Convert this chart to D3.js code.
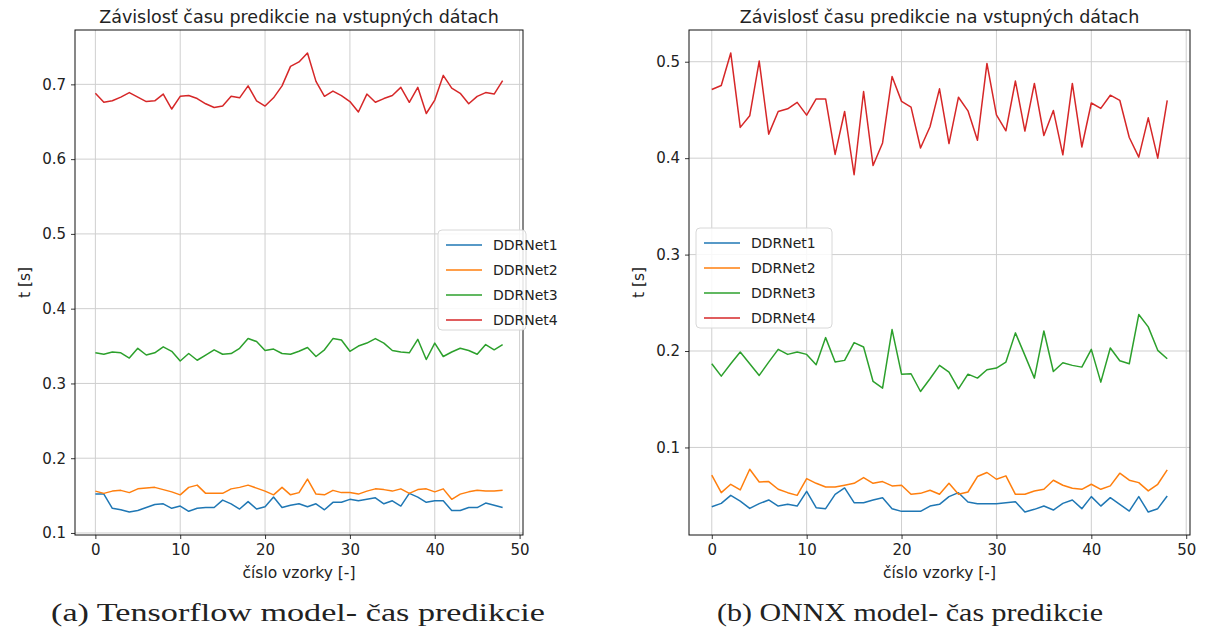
<!DOCTYPE html>
<html>
<head>
<meta charset="utf-8">
<script src="https://cdn.jsdelivr.net/npm/d3@7"></script>
<style>
  html, body { margin: 0; padding: 0; background: #fff; }
  svg { display: block; }
</style>
</head>
<body>
<svg id="fig" width="1215" height="634"></svg>
<script>
// Prediction time per sample, Tensorflow models (seconds)
const tfNet1 = [0.152,0.152,0.133,0.131,0.128,0.130,0.134,0.138,0.139,0.133,0.136,0.129,0.133,0.134,0.134,0.144,0.139,0.132,0.142,0.132,0.135,0.148,0.134,0.137,0.139,0.135,0.139,0.131,0.141,0.141,0.145,0.143,0.145,0.147,0.139,0.143,0.136,0.153,0.148,0.141,0.143,0.143,0.130,0.130,0.134,0.134,0.140,0.137,0.134];
const tfNet2 = [0.156,0.153,0.156,0.157,0.154,0.159,0.160,0.161,0.158,0.155,0.151,0.161,0.164,0.153,0.153,0.153,0.159,0.161,0.164,0.160,0.156,0.151,0.161,0.151,0.154,0.172,0.152,0.151,0.157,0.154,0.154,0.152,0.156,0.159,0.158,0.156,0.159,0.153,0.158,0.159,0.155,0.159,0.145,0.152,0.155,0.157,0.156,0.156,0.157];
const tfNet3 = [0.341,0.339,0.342,0.341,0.334,0.347,0.338,0.341,0.349,0.343,0.330,0.340,0.331,0.338,0.345,0.339,0.340,0.347,0.360,0.356,0.344,0.346,0.340,0.339,0.343,0.348,0.336,0.345,0.360,0.358,0.343,0.350,0.354,0.360,0.354,0.344,0.342,0.341,0.359,0.332,0.354,0.336,0.342,0.347,0.344,0.339,0.352,0.345,0.352];
const tfNet4 = [0.688,0.676,0.678,0.683,0.689,0.683,0.677,0.678,0.687,0.667,0.684,0.685,0.681,0.674,0.669,0.671,0.684,0.682,0.698,0.678,0.671,0.682,0.698,0.724,0.730,0.742,0.704,0.684,0.691,0.685,0.677,0.663,0.687,0.676,0.681,0.685,0.696,0.676,0.696,0.661,0.679,0.712,0.695,0.688,0.674,0.684,0.689,0.687,0.705];

// Prediction time per sample, ONNX models (seconds)
const onnxNet1 = [0.0385,0.0420,0.0503,0.0444,0.0368,0.0417,0.0455,0.0392,0.0410,0.0392,0.0545,0.0375,0.0365,0.0514,0.0580,0.0427,0.0427,0.0455,0.0479,0.0365,0.0337,0.0337,0.0337,0.0392,0.0410,0.0490,0.0531,0.0434,0.0417,0.0417,0.0417,0.0427,0.0438,0.0330,0.0358,0.0392,0.0351,0.0420,0.0455,0.0365,0.0490,0.0392,0.0479,0.0410,0.0340,0.0490,0.0330,0.0365,0.0497];
const onnxNet2 = [0.0712,0.0531,0.0618,0.0559,0.0774,0.0642,0.0646,0.0566,0.0531,0.0503,0.0677,0.0628,0.0590,0.0590,0.0608,0.0628,0.0688,0.0628,0.0646,0.0601,0.0608,0.0514,0.0524,0.0556,0.0514,0.0628,0.0514,0.0538,0.0698,0.0740,0.0670,0.0705,0.0514,0.0514,0.0549,0.0566,0.0660,0.0608,0.0576,0.0566,0.0618,0.0566,0.0601,0.0733,0.0660,0.0635,0.0549,0.0618,0.0767];
const onnxNet3 = [0.1868,0.1740,0.1868,0.1990,0.1868,0.1747,0.1885,0.2017,0.1965,0.1990,0.1965,0.1858,0.2139,0.1885,0.1903,0.2087,0.2042,0.1684,0.1615,0.2222,0.1760,0.1764,0.1580,0.1712,0.1851,0.1781,0.1608,0.1760,0.1719,0.1806,0.1823,0.1885,0.2188,0.1955,0.1719,0.2208,0.1788,0.1878,0.1851,0.1833,0.2017,0.1677,0.2031,0.1899,0.1868,0.2378,0.2250,0.2007,0.1920];
const onnxNet4 = [0.4712,0.4754,0.5091,0.4319,0.4439,0.5007,0.4249,0.4484,0.4512,0.4579,0.4446,0.4614,0.4614,0.4039,0.4484,0.3828,0.4691,0.3923,0.4158,0.4846,0.4589,0.4530,0.4105,0.4326,0.4719,0.4151,0.4632,0.4491,0.4186,0.4982,0.4449,0.4284,0.4800,0.4281,0.4775,0.4235,0.4495,0.4035,0.4775,0.4116,0.4572,0.4516,0.4653,0.4600,0.4214,0.4011,0.4418,0.4000,0.4600];

const seriesNames = ["DDRNet1", "DDRNet2", "DDRNet3", "DDRNet4"];
const seriesColors = ["#1f77b4", "#ff7f0e", "#2ca02c", "#d62728"];
const xTicks = [0, 10, 20, 30, 40, 50];
const tfYTicks = [0.1, 0.2, 0.3, 0.4, 0.5, 0.6, 0.7];
const onnxYTicks = [0.1, 0.2, 0.3, 0.4, 0.5];

const plotTitle = "Závislosť času predikcie na vstupných dátach";
const xLabel = "číslo vzorky [-]";
const yLabel = "t [s]";
const captions = ["(a) Tensorflow model- čas predikcie", "(b) ONNX model- čas predikcie"];

const svg = d3.select("#fig");
const sans = "'DejaVu Sans', sans-serif";

function drawPanel(cfg) {
  const { left, right, top, bottom, series, yTicks, legendPos, caption, captionX, captionW } = cfg;
  const g = svg.append("g");

  // matplotlib-style auto limits with 5% margins
  const n = series[0].length;
  const xPad = (n - 1) * 0.05;
  const all = series.flat();
  const lo = d3.min(all), hi = d3.max(all), yPad = (hi - lo) * 0.05;

  const x = d3.scaleLinear().domain([-xPad, n - 1 + xPad]).range([left, right]);
  const y = d3.scaleLinear().domain([lo - yPad, hi + yPad]).range([bottom, top]);

  // grid
  g.append("g").selectAll("line").data(xTicks).join("line")
    .attr("x1", d => x(d)).attr("x2", d => x(d))
    .attr("y1", top).attr("y2", bottom)
    .attr("stroke", "#cfcfcf").attr("stroke-width", 1);
  g.append("g").selectAll("line").data(yTicks).join("line")
    .attr("x1", left).attr("x2", right)
    .attr("y1", d => y(d)).attr("y2", d => y(d))
    .attr("stroke", "#cfcfcf").attr("stroke-width", 1);

  // series lines
  const line = d3.line().x((d, i) => x(i)).y(d => y(d));
  series.forEach((s, k) => {
    g.append("path").datum(s)
      .attr("d", line)
      .attr("fill", "none")
      .attr("stroke", seriesColors[k])
      .attr("stroke-width", 1.5)
      .attr("stroke-linejoin", "round");
  });

  // axes
  const xAxis = d3.axisBottom(x).tickValues(xTicks).tickSize(4).tickPadding(5).tickFormat(d3.format("d"));
  const yAxis = d3.axisLeft(y).tickValues(yTicks).tickSize(4).tickPadding(5).tickFormat(d3.format(".1f"));
  const gx = g.append("g").attr("transform", `translate(0,${bottom})`).call(xAxis);
  const gy = g.append("g").attr("transform", `translate(${left},0)`).call(yAxis);
  [gx, gy].forEach(a => {
    a.select(".domain").remove();
    a.selectAll("line").attr("stroke", "#222").attr("stroke-width", 0.9);
    a.selectAll("text").attr("font-family", sans).attr("font-size", 15).attr("fill", "#222");
  });

  // frame
  g.append("rect").attr("x", left).attr("y", top)
    .attr("width", right - left).attr("height", bottom - top)
    .attr("fill", "none").attr("stroke", "#111").attr("stroke-width", 1);

  // title and axis labels
  const cx = (left + right) / 2;
  g.append("text").attr("x", cx).attr("y", top - 7)
    .attr("text-anchor", "middle").attr("font-family", sans).attr("font-size", 17.5)
    .attr("fill", "#222").text(plotTitle);
  g.append("text").attr("x", cx).attr("y", bottom + 43)
    .attr("text-anchor", "middle").attr("font-family", sans).attr("font-size", 15.5)
    .attr("fill", "#222").text(xLabel);
  g.append("text").attr("transform", `translate(${left - 45},${(top + bottom) / 2}) rotate(-90)`)
    .attr("text-anchor", "middle").attr("font-family", sans).attr("font-size", 15.5)
    .attr("fill", "#222").text(yLabel);

  // legend
  const lg = g.append("g").attr("transform", `translate(${legendPos[0]},${legendPos[1]})`);
  lg.append("rect").attr("width", legendPos[2]).attr("height", 100).attr("rx", 4)
    .attr("fill", "rgba(255,255,255,0.85)").attr("stroke", "#d8d8d8");
  seriesNames.forEach((name, k) => {
    const yy = 15 + k * 25;
    lg.append("line").attr("x1", 8).attr("x2", 44).attr("y1", yy).attr("y2", yy)
      .attr("stroke", seriesColors[k]).attr("stroke-width", 1.5);
    lg.append("text").attr("x", 55).attr("y", yy + 5).attr("font-family", sans)
      .attr("font-size", 14).attr("fill", "#222").text(name);
  });

  // caption
  svg.append("text").attr("x", captionX).attr("y", 621)
    .attr("text-anchor", "middle").attr("font-family", "'Liberation Serif', serif")
    .attr("font-size", 26).attr("fill", "#222")
    .attr("textLength", captionW).attr("lengthAdjust", "spacingAndGlyphs")
    .text(caption);
}

drawPanel({
  left: 75, right: 523, top: 30, bottom: 535,
  series: [tfNet1, tfNet2, tfNet3, tfNet4], yTicks: tfYTicks,
  legendPos: [438, 230, 88], caption: captions[0], captionX: 298, captionW: 494
});
drawPanel({
  left: 689, right: 1190, top: 30, bottom: 535,
  series: [onnxNet1, onnxNet2, onnxNet3, onnxNet4], yTicks: onnxYTicks,
  legendPos: [696, 228, 136], caption: captions[1], captionX: 910, captionW: 386
});
</script>
</body>
</html>
